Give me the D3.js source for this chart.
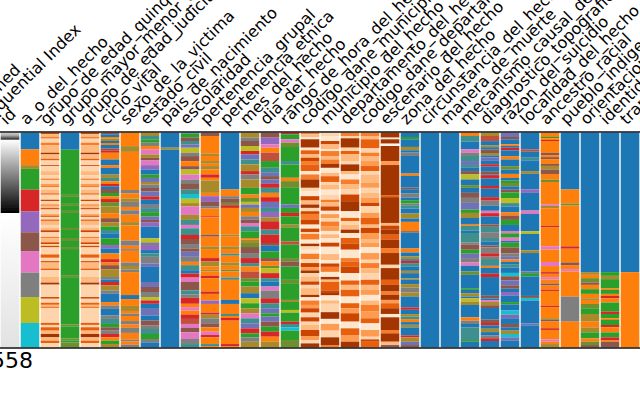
<!DOCTYPE html>
<html><head><meta charset="utf-8">
<script src="https://cdn.jsdelivr.net/npm/d3@7"></script>
<style>html,body{margin:0;padding:0;background:#fff;overflow:hidden}svg{display:block}text{font-family:"DejaVu Sans",sans-serif;fill:#000}</style>
</head><body><div id="chart"></div>
<script>
const columnNames = ["Unnamed","Sequential Index","id","a_o_del_hecho","grupo_de_edad_quinquenal","grupo_mayor_menor_de_edad","grupo_de_edad_judicial","ciclo_vital","sexo_de_la_victima","estado_civil","pais_de_nacimiento","escolaridad","pertenencia_grupal","pertenencia_etnica","mes_del_hecho","dia_del_hecho","rango_de_hora_del_hecho","codigo_dane_municipio_del_hecho","municipio_del_hecho","departamento_del_hecho","codigo_dane_departamento_del_hecho","escenario_del_hecho","zona_del_hecho","circunstancia_del_hecho","manera_de_muerte","mecanismo_causal_de_muerte","diagnostico_topografico","razon_del_suicidio","localidad_del_hecho","ancestro_racial","pueblo_indigena","orientacion_sexual","identidad_de_genero","transgenero"];
const rowCountLabel = "558";

// category codes: lower-case = categorical colours and the blends they form at this scale, upper-case = ordinal levels
const categoryCodes = ["b","o","g","r","p","n","k","y","l","c","m","t","u","v","w"];
const categoryColors = ["#1f77b4","#ff7f0e","#2ca02c","#d62728","#9467bd","#8c564b","#e377c2","#7f7f7f","#bcbd22","#17becf","#a88a2c","#3f8f8f","#6f72b8","#c0503a","#6d8f2e"];
const ordinalCodes = ["A","B","C","D","E","F","G","H","I","J"];

// id column: grey level by row position
const idRowStops = [0,8,20,22,240,241,642];
const idGreyStops = [205,175,45,255,0,255,226];

// each column: runs of code + row span, top to bottom
const runs_a_o = "b50 o47 m11 g62 r65 p62 n56 k64 y73 l77 c73".split(" ");
const runs_quinq = "H5 D8 F5 C12 F8 D10 D12 I5 D13 G5 C14 H3 C15 D12 C10 F4 C12 E6 F4 C8 D10 G4 C15 H4 C10 F4 D7 H4 C14 E5 H3 C8 G4 D12 C8 D8 H6 C14 F4 D12 H5 C3 D3 H4 C21 G10 C10 H4 D18 G5 C20 D17 I6 C37 H5 C12 G6 D5 F5 C44 G6 C7 G10 D10 I10 D10 G7 C13".split(" ");
const runs_mayor = "b51 g135 w6 g21 w6 g15 w6 g45 w6 g24 w9 g18 w6 g78 w6 g141 w6 g36 w6 g6 w15".split(" ");
const runs_judicial = "H5 D8 F5 C12 F8 D10 D12 I5 D13 G5 C14 H3 C15 D12 C10 F4 C12 E6 F4 C8 D10 G4 C15 H4 C10 F4 D7 H4 C14 E5 H3 C8 G4 D12 C8 D8 H6 C14 F4 D12 H5 C3 D3 H4 C21 G10 C10 H4 D18 G5 C20 D17 I6 C37 H5 C12 G6 D5 F5 C44 G6 C7 G10 D10 I10 D10 G7 C13".split(" ");
const runs_ciclo = "n5 b8 o5 m7 b6 o6 b10 n6 r7 o20 b17 o8 b20 m10 t10 o8 r7 b8 n12 g10 o8 r9 w13 m20 o15 n12 m13 g10 t10 b15 g20 p10 b15 o17 r10 o8 n12 m10 m13 y8 b7 r10 m15 y10 b25 o10 y10 b20 y10 t15 g10 n10 y10 r10 o10 g10 m10".split(" ");
const runs_sexo = "o40 m17 o113 y10 o15 m10 y15 o10 y13 o22 m10 o45 y15 o10 y5 o35 y10 m10 y8 o68 b12 o20 m15 o8 y7 o15 y10 o10 y15 o20 y5 o10 y8".split(" ");
const runs_estado = "m10 t10 g10 y10 o10 k15 m10 n8 k14 p13 b15 g10 u12 m8 y10 n10 u15 r10 b15 y10 t12 g13 u10 n7 p13 b35 l12 y8 p15 b10 t10 y20 u10 b45 u15 n15 y15 l10 r10 b15 u20 b15 n15 y10 t15 g15 y10 b15".split(" ");
const runs_pais = "b45 m6 b591".split(" ");
const runs_escolaridad = "b3 g12 n10 t10 u10 l15 y10 n15 o15 n10 l15 k15 y13 n17 t13 c14 l13 m10 k25 m15 t15 k10 t20 r12 n3 n12 y13 n10 u15 y15 o10 t15 b10 r12 k13 n25 t12 y10 r18 o10 k10 o12 r13 v15 k12 n13 k20 y15 t10".split(" ");
const runs_grupal = "n10 o53 m7 o15 m8 o7 m10 o15 r10 o8 m37 o10 p17 n13 y7 o23 r3 o52 n6 o9 o20 m8 o27 r10 m15 o10 m5 o13 r7 o40 r7 o20 p10 o26 r6 m11 y15 n12 o13 k10 r7 o20 t6 o4".split(" ");
const runs_etnica = "b170 o20 y7 n13 w7 r8 o80 m6 o9 o20 m8 o14 t6 o20 m10 o12 w5 o18 t7 o60 b12 o30 t6 o6 r8 o70 r6 o4".split(" ");
const runs_mes = "m15 y10 n15 l15 r10 u15 t15 m20 r10 y15 m25 g20 o10 w12 l8 u10 m12 o13 y10 n10 k10 t15 g20 o5 m10 w12 n18 y15 r15 t10 o15 v20 w10 g15 m20 b15 l15 g15 m15 k15 t15 u15 r15 g12 y13 m17".split(" ");
const runs_dia = "n15 p20 k10 o15 v25 g20 t15 u10 n10 u13 r12 t15 o13 r14 u18 t12 p16 m12 r25 t15 r15 r10 n8 b17 g20 n10 o13 w7 l15 r15 t10 b15 k12 y23 r15 t15 u15 g10 u15 n15 g15 r15 o15 m17".split(" ");
const runs_rango = "r5 g15 k10 w13 g42 t10 g40 o10 w20 g50 u10 g15 r10 g25 m8 g37 g5 v10 g40 w10 n15 g40 w10 g50 m6 g24 l8 g27 r7 t10 c10 g28 w22".split(" ");
const runs_cod_mun = "F5 D8 B7 I25 B8 G12 D10 H10 F10 G20 B10 F15 I25 C10 B15 H13 D12 I10 C10 H8 F17 H15 B12 H10 C6 F17 B12 I8 C10 B12 F16 C12 H12 E10 I8 C10 D15 H10 C10 D20 I7 B10 F13 E10 H13 C14 H13 C10 D15 H18 E12 C10 I12".split(" ");
const runs_municipio = "C10 B15 H10 D15 B5 F15 D10 F13 I12 B15 D10 G17 C8 D15 B15 C15 F7 D13 H13 B10 E12 C10 F15 E13 B10 D12 B5 B8 H12 B22 D18 B10 H10 F15 B15 I8 D7 G25 H8 I7 B15 D10 C25 I20 B15 E20 C20 I23 F7".split(" ");
const runs_depto = "F10 C7 I28 C10 G10 D20 C10 I20 D10 B15 F15 D15 C15 H20 I30 B20 G10 C10 D15 I10 B15 G5 G12 H18 B25 F10 G15 H20 B22 G13 D15 G20 B20 G15 E15 H25 B20 G20 E20 I17".split(" ");
const runs_cod_dep = "F10 D10 G27 C13 F10 D15 E15 G15 C10 D25 E15 C15 D15 E15 H10 C20 E15 G20 D10 H15 E20 D10 E12 B18 E20 C10 F15 D15 C20 G15 D15 E15 B17 D13 F20 E20 G15 B20 E20 C8 H7 G17".split(" ");
const runs_escenario = "I15 B5 I13 A7 I45 E12 I90 G6 I77 D8 H12 I15 G15 I25 F15 I35 C10 I35 G15 I20 F10 I15 E10 G15 I17 B10 I38 F10 I25 D10 n7".split(" ");
const runs_zona = "b13 g7 b23 m10 b7 y10 b53 o7 b35 n5 b13 y12 b8 g10 y5 t10 b15 m15 b10 o28 n4 b30 b18 o12 b12 m8 b5 r7 t10 b13 m7 b16 m4 b13 m10 y15 m12 b33 r7 b13 m7 t8 o9 b8 m8 b24 r6 m13 u10 n7".split(" ");
const runs_circ = ["b642"];
const runs_manera = ["b642"];
const runs_mecanismo = "o10 t17 b23 k10 y10 t15 u12 t8 b10 n10 l15 b17 w8 b15 n15 y15 u20 g10 m15 b18 o5 t15 b7 t20 t8 y7 n15 g12 u13 y13 k10 b17 w10 b40 g5 b10 m10 b5 l10 m10 b37 o10 y10 b10 t38 g5 b17".split(" ");
const runs_diag = "m10 v15 b12 m6 b7 n10 m7 b6 u10 b10 r7 b15 n8 b2 r10 b22 r8 b25 r10 y15 b15 k7 r10 b23 n7 t16 y17 t10 b12 n6 y17 r10 y7 t18 b2 o6 b17 r10 b55 n8 b5 k5 m10 n8 b34 n10 r7 b10 m10 b10 y8 r8 b19".split(" ");
const runs_razon = "u13 n7 b15 o5 b5 r8 b17 o10 b20 w10 b13 o12 b8 g7 w10 b10 n8 g17 l15 t10 b17 o10 n13 g15 b18 k7 g13 k7 k3 b5 g14 n18 y10 u8 o7 b7 t10 b16 c10 n12 u15 n10 b10 p10 b20 g7 b18 c12 u13 b15 n10 b10 m10 c10 u10 b20".split(" ");
const runs_localidad = "b50 v7 b18 t8 b32 m8 b47 p10 b53 k10 b52 l8 b17 b32 m8 b55 u5 g10 b58 n6 c8 b68 u6 b66".split(" ");
const runs_ancestro = "o13 g4 o5 r3 o35 n7 o6 n6 o14 n6 m11 n13 o17 w7 o66 k5 m7 o52 r4 o39 o18 k10 o37 k12 o18 r5 o10 k7 o12 n6 o12 r4 o44 r4 o33 m5 n5 o20 r5 o28 k7 o7 m10".split(" ");
const runs_pueblo = "b170 o42 w6 o102 o20 r7 o41 n8 o12 k7 o75 y75 o77".split(" ");
const runs_orientacion = "b417 m8 o10 w13 n7 o13 g14 o13 m5 o12 w13 g17 m23 o17 m15 g18 o10 w10 n7".split(" ");
const runs_identidad = "b417 g11 m10 g27 o5 g12 o6 r7 o13 g27 r7 g13 o5 g15 r7 o15 g15 r8 o5 n17".split(" ");
const runs_trans = "b417 o225".split(" ");

const columnRuns = [runs_a_o,runs_quinq,runs_mayor,runs_judicial,runs_ciclo,runs_sexo,runs_estado,runs_pais,runs_escolaridad,runs_grupal,runs_etnica,runs_mes,runs_dia,runs_rango,runs_cod_mun,runs_municipio,runs_depto,runs_cod_dep,runs_escenario,runs_zona,runs_circ,runs_manera,runs_mecanismo,runs_diag,runs_razon,runs_localidad,runs_ancestro,runs_pueblo,runs_orientacion,runs_identidad,runs_trans];

const W=640,H=400,TOP=132.6,BOTTOM=347.4;
const svg=d3.select("#chart").append("svg").attr("width",W).attr("height",H);
const x=d3.scaleBand().domain(columnNames).range([-40,640]).paddingInner(0.07).paddingOuter(0.035);
const color=d3.scaleOrdinal()
  .domain(categoryCodes.concat(ordinalCodes))
  .range(categoryColors.concat(ordinalCodes.map((c,i)=>d3.interpolateOranges(i/9))));

const defs=svg.append("defs");
const soft=defs.append("filter").attr("id","soft").attr("filterUnits","userSpaceOnUse")
  .attr("x",-5).attr("y",125).attr("width",650).attr("height",230);
soft.append("feGaussianBlur").attr("stdDeviation","0.25 0.5");

const yId=d3.scaleLinear().domain([0,642]).range([0,1]);
const grad=defs.append("linearGradient").attr("id","idGrad").attr("x1",0).attr("x2",0).attr("y1",0).attr("y2",1);
idRowStops.forEach((r,i)=>{const g=idGreyStops[i];grad.append("stop").attr("offset",yId(r)).attr("stop-color",d3.rgb(g,g,g));});

const plot=svg.append("g").attr("filter","url(#soft)");
plot.append("rect").attr("x",x("id")).attr("width",x.bandwidth()).attr("y",TOP).attr("height",BOTTOM-TOP).attr("fill","url(#idGrad)");

columnRuns.forEach((runs,i)=>{
  const name=columnNames[i+3];
  const parsed=[];
  runs.forEach(t=>{
    const code=t[0],len=+t.slice(1),last=parsed[parsed.length-1];
    if(last&&last.code===code) last.len+=len; else parsed.push({code,len});
  });
  let acc=0;parsed.forEach(d=>{d.start=acc;acc+=d.len;d.end=acc;});
  const y=d3.scaleLinear().domain([0,acc]).range([TOP,BOTTOM]);
  plot.append("g").selectAll("rect").data(parsed).join("rect")
    .attr("x",x(name)).attr("width",x.bandwidth())
    .attr("y",d=>y(d.start)).attr("height",d=>y(d.end)-y(d.start)+0.05)
    .attr("fill",d=>color(d.code));
});

// axis along the top carries the rotated column names
const axisTop=d3.axisTop(x).tickSize(0).tickSizeOuter(0);
const gTop=svg.append("g").attr("transform","translate(0,131.5)").call(axisTop);
gTop.select(".domain").attr("stroke","#111").attr("stroke-width",1.3);
gTop.selectAll(".tick text")
  .attr("font-size",16).attr("text-anchor","start")
  .attr("font-family",'"DejaVu Sans",sans-serif')
  .attr("transform",`translate(${-x.bandwidth()/2+6},-6) rotate(-45)`)
  .attr("x",0).attr("y",0).attr("dy",0);

const gBot=svg.append("g").attr("transform","translate(0,347.5)").call(d3.axisBottom(x).tickValues([]).tickSize(0).tickSizeOuter(0));
gBot.select(".domain").attr("stroke","#111").attr("stroke-width",1.3);

svg.append("text").attr("x",33).attr("y",367.5).attr("text-anchor","end").attr("font-size",22).text(rowCountLabel);
</script></body></html>
